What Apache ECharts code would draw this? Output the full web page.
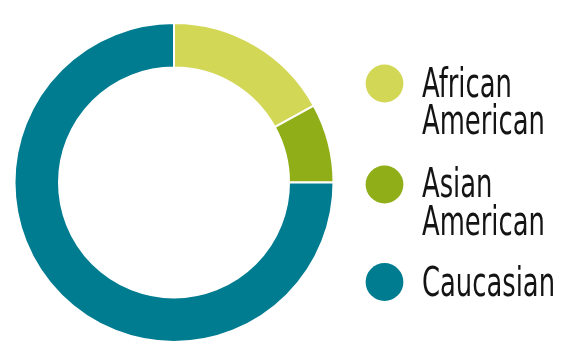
<!DOCTYPE html>
<html>
<head>
<meta charset="utf-8">
<script src="https://cdn.jsdelivr.net/npm/echarts@6/dist/echarts.min.js"></script>
<style>html,body{margin:0;padding:0;background:#fff}#c{width:570px;height:362px}</style>
</head>
<body>
<div id="c"></div>
<script>
const categories = ['African American', 'Asian American', 'Caucasian'];
const legendLabels = ['African\nAmerican', 'Asian\nAmerican', 'Caucasian'];
const values = [17, 8, 75];
const colors = ['#D3D756', '#8FAE18', '#007C91'];

// legend layout (positions only)
const legendIconX = 384.5;
const legendIconY = [83.5, 184.5, 282];
const legendTextX = 422;
const legendTextMid = [86, 186.7, 285];
const LH = 37.3;
const FONT = '"DejaVu Sans Condensed", "Liberation Sans", sans-serif';

const chart = echarts.init(document.getElementById('c'), null, {renderer: 'canvas'});

const legendGraphics = [];
categories.forEach((name, i) => {
  legendGraphics.push({
    type: 'circle',
    shape: {cx: legendIconX, cy: legendIconY[i], r: 18.9},
    style: {fill: colors[i]},
    silent: true
  });
  legendGraphics.push({
    type: 'text',
    x: legendTextX,
    y: legendTextMid[i] - LH / 2,
    scaleX: 0.7,
    silent: true,
    style: {
      x: 0,
      y: 0,
      text: legendLabels[i],
      font: '41px ' + FONT,
      lineHeight: LH,
      fill: '#141414',
      align: 'left',
      verticalAlign: 'top'
    }
  });
});

chart.setOption({
  animation: false,
  graphic: legendGraphics,
  series: [{
    type: 'pie',
    center: [174, 182.5],
    radius: [115, 159.5],
    startAngle: 90,
    clockwise: true,
    label: {show: false},
    labelLine: {show: false},
    emphasis: {disabled: true},
    itemStyle: {borderColor: '#fff', borderWidth: 2},
    data: categories.map((name, i) => ({
      name,
      value: values[i],
      itemStyle: {color: colors[i]}
    }))
  }]
});
</script>
</body>
</html>
